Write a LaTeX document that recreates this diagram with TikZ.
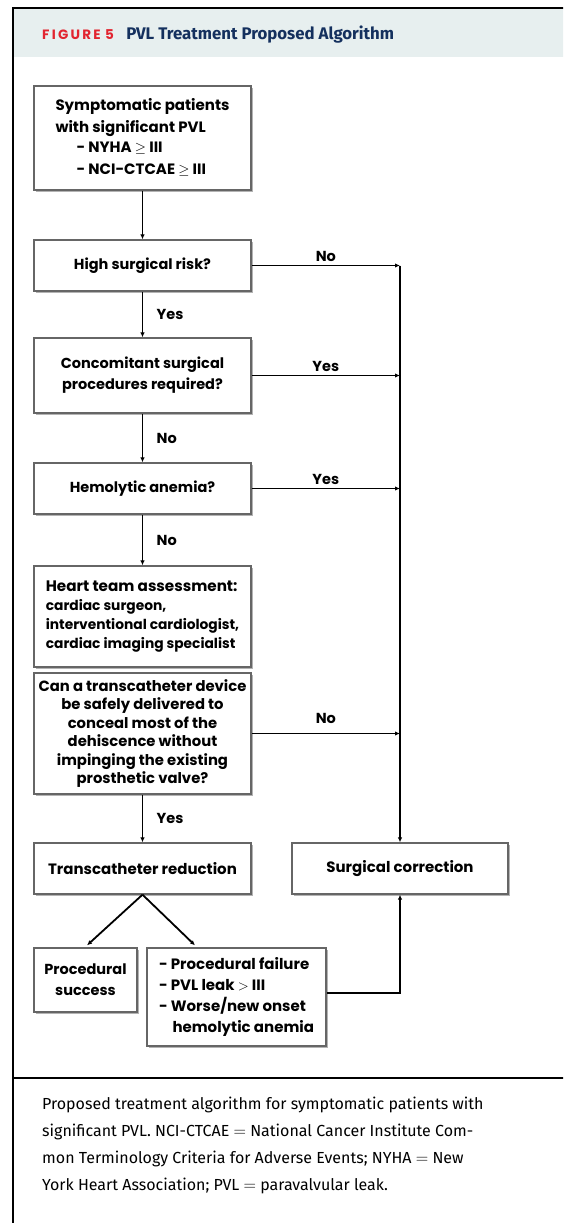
\documentclass[tikz,border=0pt]{standalone}
\usepackage{fontspec}
\setmainfont{Fira Sans}
\newfontfamily\boxfont{Poppins}
\usetikzlibrary{arrows.meta,shadows,calc,positioning}
\definecolor{headfill}{HTML}{E7EFEF}
\definecolor{figred}{HTML}{E2242F}
\definecolor{navy}{HTML}{14305E}
\tikzset{
  flowbox/.style={draw=black!60, line width=1.3pt, fill=white, inner sep=0pt,
    drop shadow={shadow xshift=1.5pt, shadow yshift=-1.5pt, fill=black!50, opacity=0.6},
    font=\boxfont\bfseries\fontsize{14.5}{19}\selectfont, align=center},
  link/.style={line width=1.8pt, -{Latex[length=5pt,width=4.5pt]}},
  answer/.style={font=\boxfont\bfseries\fontsize{14.5}{16}\selectfont},
}
\begin{document}
\begin{tikzpicture}[x=1pt,y=-1pt]
  \useasboundingbox (0,0) rectangle (563,1223);
  \clip (0,0) rectangle (563,1223);
  \fill[headfill] (13,8) rectangle (580,57);
  \draw[line width=1.6pt] (13,1240) -- (13,8) -- (580,8);
  \draw[line width=1.6pt] (13,1078) -- (580,1078);
  \node[anchor=base west, font=\boxfont\bfseries\fontsize{13.5}{16}\selectfont, text=figred, inner sep=0pt] (fig) at (42,39.5) {F\,I\,G\,U\,R\,E\,\,5};
  \node[font=\bfseries\fontsize{16.8}{18}\selectfont, text=navy, inner sep=0pt, right=12pt of fig.base east, anchor=base west] (title) {PVL Treatment Proposed Algorithm};

  \node[flowbox, minimum width=217pt, minimum height=104pt, font=\boxfont\bfseries\fontsize{15}{21}\selectfont] (sym) at (142.5,138) {\begin{tabular}{@{}l@{}}Symptomatic patients\\[1pt]with significant PVL\\[-1pt]\hspace{1.4em}- NYHA $\geq$ III\\[1pt]\hspace{1.4em}- NCI-CTCAE $\geq$ III\end{tabular}};
  \node[flowbox, minimum width=217pt, minimum height=51pt] (risk) at (142.5,265.5) {High surgical risk?};
  \node[flowbox, minimum width=217pt, minimum height=75pt, font=\boxfont\bfseries\fontsize{14.5}{21}\selectfont] (conc) at (142.5,375.5) {Concomitant surgical\\procedures required?};
  \node[flowbox, minimum width=217pt, minimum height=51pt] (hemo) at (142.5,488.5) {Hemolytic anemia?};
  \node[flowbox, minimum width=217pt, minimum height=101pt, align=left] (team) at (142.5,616.5) {{\fontsize{15.2}{19}\selectfont Heart team assessment:}\\{\fontsize{13.8}{19}\selectfont cardiac surgeon,}\\{\fontsize{13.8}{19}\selectfont interventional cardiologist,}\\{\fontsize{13.8}{19}\selectfont cardiac imaging specialist}};
  \node[flowbox, minimum width=217pt, minimum height=121pt, font=\boxfont\bfseries\fontsize{14.8}{18.5}\selectfont] (dev) at (142.5,733.5) {Can a transcatheter device\\be safely delivered to\\conceal most of the\\dehiscence without\\impinging the existing\\prosthetic valve?};
  \node[flowbox, minimum width=217pt, minimum height=51pt, font=\boxfont\bfseries\fontsize{15}{19}\selectfont] (trans) at (142.5,868.5) {Transcatheter reduction};
  \node[flowbox, minimum width=216pt, minimum height=51pt, font=\boxfont\bfseries\fontsize{15}{19}\selectfont] (surg) at (400,868.5) {Surgical correction};
  \node[flowbox, minimum width=103pt, minimum height=64pt, font=\boxfont\bfseries\fontsize{14.5}{21}\selectfont] (succ) at (85.5,980) {Procedural\\success};
  \node[flowbox, minimum width=179pt, minimum height=98pt, font=\boxfont\bfseries\fontsize{15}{21}\selectfont, align=left] (fail) at (236.5,997) {- Procedural failure\\- PVL leak $>$ III\\- Worse/new onset\\\hspace{0.9em}hemolytic anemia};

  \draw[link] (sym) -- (risk);
  \draw[link] (risk) -- node[answer, right=10pt] {Yes} (conc);
  \draw[link] (conc) -- node[answer, right=10pt] {No} (hemo);
  \draw[link] (hemo) -- node[answer, right=10pt] {No} (team);
  \draw[link] (dev) -- node[answer, right=10pt] {Yes} (trans);
  \draw[link] (risk.east) -- node[answer, above, pos=0.5] {No} (risk.east -| surg);
  \draw[link] (conc.east) -- node[answer, above, pos=0.5] {Yes} (conc.east -| surg);
  \draw[link] (hemo.east) -- node[answer, above, pos=0.5] {Yes} (hemo.east -| surg);
  \draw[link] (dev.east) -- node[answer, above=6pt, pos=0.5] {No} (dev.east -| surg);
  \draw[link] (risk.east -| surg) -- (surg.north);
  \draw[link] (trans.south) -- ($(succ.north)+(1.5,-2)$);
  \draw[link] (trans.south) -- ($(fail.north west)!0.27!(fail.north east)+(0,-2)$);
  \draw[link] ($(fail.east)+(0,-4)$) -| (surg.south);

  \node[anchor=north west, align=left, inner sep=0pt, font=\fontsize{16}{27}\selectfont] (cap) at (42,1097) {Proposed treatment algorithm for symptomatic patients with\\significant PVL. NCI-CTCAE $=$ National Cancer Institute Com-\\mon Terminology Criteria for Adverse Events; NYHA $=$ New\\York Heart Association; PVL $=$ paravalvular leak.};
\end{tikzpicture}
\end{document}
